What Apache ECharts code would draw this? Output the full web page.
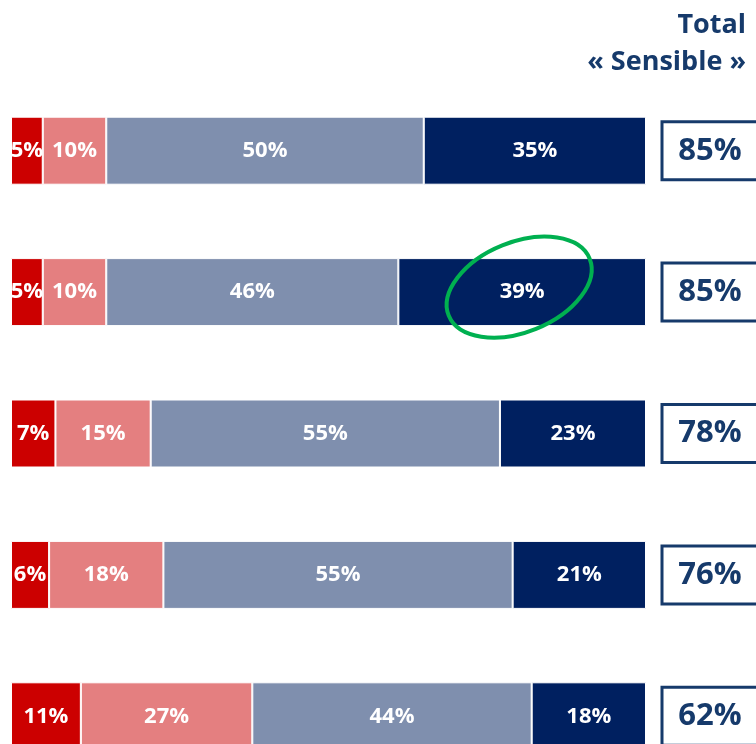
<!DOCTYPE html>
<html>
<head>
<meta charset="utf-8">
<script src="https://cdn.jsdelivr.net/npm/echarts@6/dist/echarts.min.js"></script>
<style>
  html, body { margin: 0; padding: 0; background: #fff; }
  #main { width: 756px; height: 744px; }
</style>
</head>
<body>
<div id="main"></div>
<script>
// rows, top to bottom
var rows = ['r1', 'r2', 'r3', 'r4', 'r5'];
var tresInsensible = [5, 5, 7, 6, 11];
var plutotInsensible = [10, 10, 15, 18, 27];
var plutotSensible = [50, 46, 55, 55, 44];
var tresSensible = [35, 39, 23, 21, 18];
var totalSensible = [85, 85, 78, 76, 62];
var titleLines = ['Total', '« Sensible »'];

var colors = ['#cc0000', '#e47f80', '#7f8fae', '#002060'];
var navy = '#163a6b';
var font = 'Open Sans';

var myChart = echarts.init(document.getElementById('main'));

function seg(name, data, color) {
    return {
        name: name,
        type: 'bar',
        stack: 'all',
        barWidth: 68,
        data: data,
        itemStyle: { color: color, borderColor: '#fff', borderWidth: 1 },
        label: {
            show: true,
            position: 'inside',
            color: '#fff',
            fontFamily: font,
            fontWeight: 'bold',
            fontSize: 22,
            formatter: '{c}%'
        }
    };
}

var option = {
    animation: false,
    grid: { left: 11, right: 110, top: 80, height: 707, outerBoundsMode: 'none' },
    xAxis: { type: 'value', min: 0, max: 100, show: false },
    yAxis: [{
        type: 'category',
        data: rows,
        inverse: true,
        show: false
    }, {
        type: 'category',
        data: totalSensible.map(function (v) { return v + '%'; }),
        inverse: true,
        position: 'right',
        axisLine: { show: false },
        axisTick: { show: false },
        axisLabel: {
            margin: 16,
            align: 'left',
            formatter: function (v) { return '{box|' + v + '}'; },
            rich: {
                box: {
                    width: 96,
                    height: 58,
                    align: 'center',
                    verticalAlign: 'middle',
                    borderColor: navy,
                    borderWidth: 3,
                    color: navy,
                    fontFamily: font,
                    fontWeight: 'bold',
                    fontSize: 31
                }
            }
        }
    }],
    series: [
        seg('tres insensible', tresInsensible, colors[0]),
        seg('plutot insensible', plutotInsensible, colors[1]),
        seg('plutot sensible', plutotSensible, colors[2]),
        seg('tres sensible', tresSensible, colors[3])
    ],
    graphic: titleLines.map(function (t, i) {
        return {
            id: 'title' + i,
            type: 'text',
            right: 10,
            top: 12 + i * 37,
            style: { text: t, fill: navy, font: 'bold 27px "Open Sans"' }
        };
    })
};

option && myChart.setOption(option);

// green circle around the 39% segment of row 2
var c = myChart.convertToPixel({ gridIndex: 0 }, [tresInsensible[1] + plutotInsensible[1] + plutotSensible[1] + tresSensible[1] / 2, 1]);
myChart.setOption({
    graphic: [{
        id: 'ring',
        type: 'ellipse',
        x: c[0] - 3,
        y: c[1] - 5,
        rotation: 22 * Math.PI / 180,
        shape: { cx: 0, cy: 0, rx: 76, ry: 45 },
        style: { fill: 'none', stroke: '#00b050', lineWidth: 4 },
        z: 10
    }]
});
</script>
</body>
</html>
